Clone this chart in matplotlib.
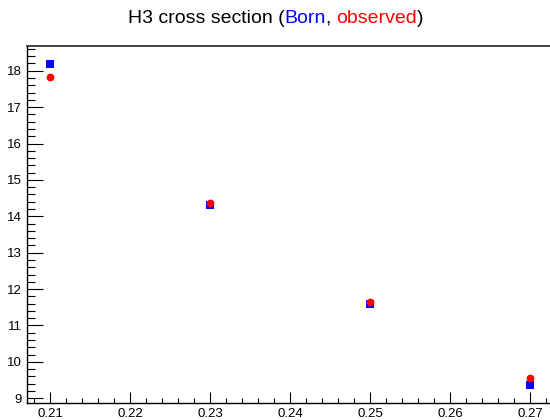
#!/usr/bin/env python3
"""H3 cross section, Born vs observed (ROOT-style graph)."""

import matplotlib
matplotlib.use("Agg")
import matplotlib.pyplot as plt
from matplotlib.ticker import MultipleLocator, AutoMinorLocator

# ---------------------------------------------------------------------------
# Data
# ---------------------------------------------------------------------------
x_vals = [0.21, 0.23, 0.25, 0.27]
born = [18.18, 14.32, 11.59, 9.36]
observed = [17.82, 14.36, 11.64, 9.55]

title_parts = [("H3 cross section (", "black"), ("Born", "blue"),
               (", ", "black"), ("observed", "red"), (")", "black")]

plt.rcParams["font.family"] = ["Liberation Sans", "DejaVu Sans"]

fig = plt.figure(figsize=(5.5, 4.2), dpi=100)
ax = fig.add_axes([27 / 550, 1 - 403 / 420, 1 - 27 / 550 + 0.002, (403 - 46) / 420])

ax.plot(x_vals, born, ls="none", marker="s", ms=5.4, color="#0000ff", mew=0, zorder=3)
ax.plot(x_vals, observed, ls="none", marker="o", ms=5.6, color="#ff0000", mew=0, zorder=3)

ax.set_xlim(0.207125, 0.2726)
ax.set_ylim(8.87, 18.68)

ax.xaxis.set_major_locator(MultipleLocator(0.01))
ax.xaxis.set_minor_locator(AutoMinorLocator(5))
ax.yaxis.set_major_locator(MultipleLocator(1))
ax.yaxis.set_minor_locator(AutoMinorLocator(5))
ax.xaxis.set_major_formatter(matplotlib.ticker.FormatStrFormatter("%.2f"))

ax.tick_params(axis="both", which="both", direction="in", width=0.8,
               labelsize=9.5, colors="black")
ax.tick_params(axis="x", which="major", length=8, pad=3.5)
ax.tick_params(axis="x", which="minor", length=3.6)
ax.tick_params(axis="y", which="major", length=11.5, pad=3.5)
ax.tick_params(axis="y", which="minor", length=5.8)
ax.tick_params(top=False, right=False, which="both")

for side in ["left", "bottom", "top"]:
    ax.spines[side].set_linewidth(1.0)
ax.spines["right"].set_visible(False)
ax.spines["top"].set_linewidth(1.3)
ax.spines["top"].set_color("#333333")

# multicolour title, centred as one line
fig.canvas.draw()
renderer = fig.canvas.get_renderer()
texts = []
for s, c in title_parts:
    t = fig.text(0, 0, s, color=c, fontsize=14, va="baseline", ha="left")
    texts.append(t)
widths = [t.get_window_extent(renderer).width for t in texts]
total = sum(widths)
x0 = 275.5 - total / 2
base_y = 1 - 23 / 420
for t, w in zip(texts, widths):
    t.set_position((x0 / 550, base_y))
    x0 += w

fig.savefig("out.png", dpi=100)
